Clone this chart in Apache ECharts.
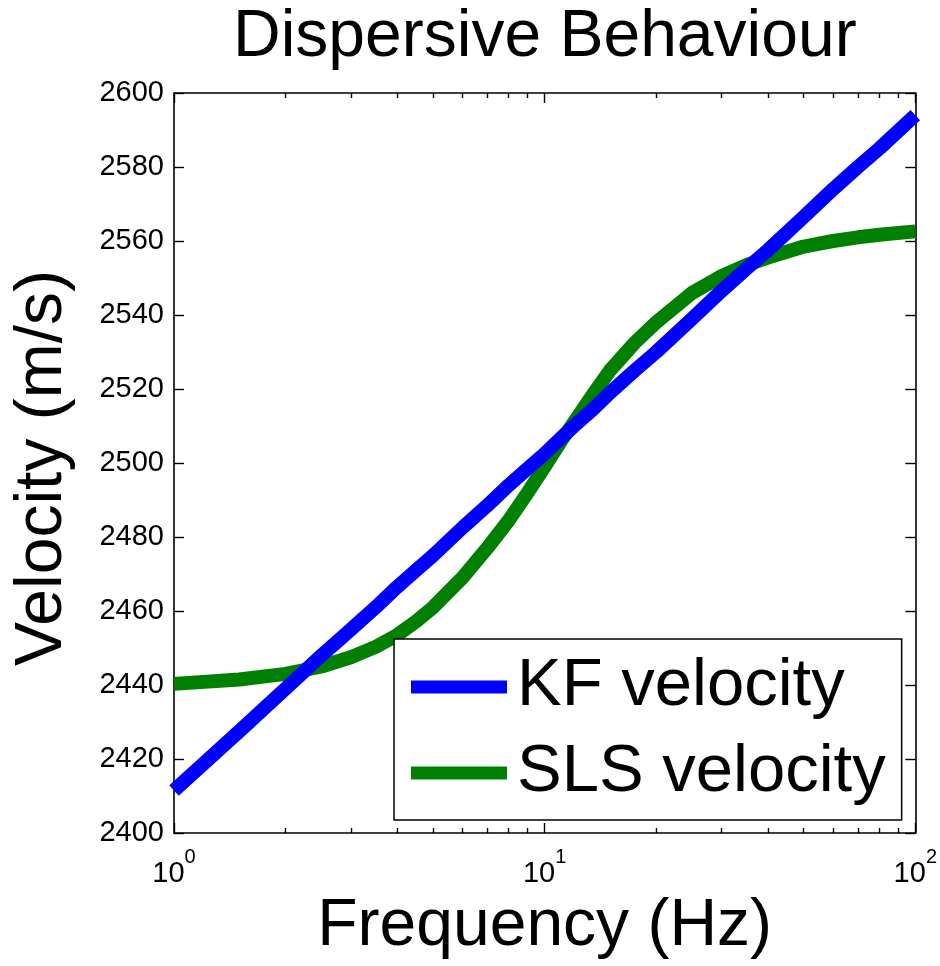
<!DOCTYPE html>
<html>
<head>
<meta charset="utf-8">
<script src="https://cdn.jsdelivr.net/npm/echarts@6/dist/echarts.min.js"></script>
<style>
  html, body { margin: 0; padding: 0; background: #fff; }
  #chart { width: 940px; height: 966px; }
</style>
</head>
<body>
<div id="chart"></div>
<script>
// Frequencies (Hz) at which the two velocity curves are sampled
const frequencies = [1, 1.5, 2, 2.5, 3, 3.5, 4, 4.5, 5, 6, 7, 8, 9, 10, 11, 12, 13.5, 15, 17.5,
                     20, 25, 30, 35, 40, 50, 60, 70, 80, 100];
// Kramers–Kronig (KF) velocity, m/s
const kfVelocity = [2411.5, 2427.5, 2439, 2448, 2455, 2461, 2466.5, 2471, 2475, 2482.5, 2488.5, 2494, 2498.5, 2502.5,
                    2506.5, 2510, 2514.5, 2519, 2525, 2530, 2539, 2546.5, 2552.5, 2557.5, 2566.5, 2574, 2580, 2585, 2594];
// Standard linear solid (SLS) velocity, m/s
const slsVelocity = [2440.3, 2441.5, 2443, 2445, 2447.5, 2450.3, 2453.5, 2457.2, 2461, 2469, 2477, 2484.5, 2492, 2499,
                     2505.5, 2511, 2518.5, 2525, 2532.5, 2538, 2546, 2550.5, 2553.5, 2555.5, 2558.5, 2560, 2561, 2561.7, 2562.6];

const seriesNames = ['KF velocity', 'SLS velocity'];
const yTickStep = 20;
const yMin = 2400, yMax = 2600;
const xMin = 1, xMax = 100;
// Frequencies that carry the small in-between ticks of the log axis
const minorTickFreqs = [2, 3, 4, 5, 6, 7, 8, 9, 20, 30, 40, 50, 60, 70, 80, 90];

const FONT = '"Liberation Sans", Arial, Helvetica, sans-serif';
const AXIS_COLOR = '#000';

const toPairs = (xs, ys) => xs.map((x, i) => [x, ys[i]]);
const minorLogPositions = minorTickFreqs.map(f => Math.log10(f));

const chart = echarts.init(document.getElementById('chart'), null, { renderer: 'canvas' });

const majorLogAxis = (position, withLabels) => ({
  type: 'log',
  logBase: 10,
  position: position,
  min: xMin,
  max: xMax,
  axisLine: { show: true, onZero: false, lineStyle: { color: AXIS_COLOR, width: 1.6 } },
  axisTick: { show: true, inside: true, length: 10, lineStyle: { color: AXIS_COLOR, width: 1.4 } },
  minorTick: { show: false },
  splitLine: { show: false },
  axisLabel: withLabels ? {
    show: true,
    margin: 14,
    fontFamily: FONT,
    fontSize: 29,
    color: '#000',
    // powers of ten written as 10 with a raised exponent
    formatter: v => '{b|10}{s|' + Math.round(Math.log10(v)) + '}',
    rich: {
      b: { fontFamily: FONT, fontSize: 29, color: '#000', lineHeight: 54, verticalAlign: 'middle' },
      s: { fontFamily: FONT, fontSize: 20, color: '#000', lineHeight: 20, verticalAlign: 'top' }
    }
  } : { show: false }
});

const minorTickAxis = position => ({
  type: 'value',
  position: position,
  min: 0,
  max: 2,
  axisLine: { show: false, onZero: false },
  axisTick: {
    show: true, inside: true, length: 5,
    customValues: minorLogPositions,
    lineStyle: { color: AXIS_COLOR, width: 1.4 }
  },
  axisLabel: { show: false },
  splitLine: { show: false }
});

const velocityAxis = (position, withLabels) => ({
  type: 'value',
  position: position,
  min: yMin,
  max: yMax,
  interval: yTickStep,
  axisLine: { show: true, onZero: false, lineStyle: { color: AXIS_COLOR, width: 1.6 } },
  axisTick: { show: true, inside: true, length: 10, lineStyle: { color: AXIS_COLOR, width: 1.4 } },
  splitLine: { show: false },
  axisLabel: withLabels ? {
    show: true, margin: 10, fontFamily: FONT, fontSize: 29, color: '#000',
    formatter: v => String(v)
  } : { show: false }
});

const xBottom = majorLogAxis('bottom', true);
xBottom.name = 'Frequency (Hz)';
xBottom.nameLocation = 'middle';
xBottom.nameGap = 58;
xBottom.nameTextStyle = { fontFamily: FONT, fontSize: 66, color: '#000' };

const yLeft = velocityAxis('left', true);
yLeft.name = 'Velocity (m/s)';
yLeft.nameLocation = 'middle';
yLeft.nameGap = 98;
yLeft.nameTextStyle = { fontFamily: FONT, fontSize: 66, color: '#000', padding: [0, 10, 0, 0] };

const option = {
  backgroundColor: '#fff',
  animation: false,
  title: {
    text: 'Dispersive Behaviour',
    left: 228,
    top: 0,
    textStyle: { fontFamily: FONT, fontSize: 66, fontWeight: 'normal', color: '#000' }
  },
  grid: { left: 174, right: 24, top: 93, bottom: 133, containLabel: false },
  legend: {
    data: seriesNames,
    orient: 'vertical',
    left: 394,
    top: 639,
    padding: [13, 16, 12, 17],
    itemGap: 16,
    itemWidth: 96,
    itemHeight: 13,
    icon: 'rect',
    selectedMode: false,
    backgroundColor: '#fff',
    borderColor: '#000',
    borderWidth: 1.5,
    textStyle: { fontFamily: FONT, fontSize: 67, lineHeight: 70, color: '#000', padding: [0, 0, 0, 5] }
  },
  xAxis: [xBottom, majorLogAxis('top', false), minorTickAxis('bottom'), minorTickAxis('top')],
  yAxis: [yLeft, velocityAxis('right', false)],
  series: [
    {
      name: seriesNames[0],
      type: 'line',
      xAxisIndex: 0,
      yAxisIndex: 0,
      data: toPairs(frequencies, kfVelocity),
      showSymbol: false,
      symbol: 'none',
      color: '#0000ff',
      lineStyle: { width: 14, color: '#0000ff', cap: 'butt' },
      z: 3
    },
    {
      name: seriesNames[1],
      type: 'line',
      xAxisIndex: 0,
      yAxisIndex: 0,
      data: toPairs(frequencies, slsVelocity),
      showSymbol: false,
      symbol: 'none',
      color: '#008000',
      lineStyle: { width: 14, color: '#008000', cap: 'butt', join: 'round' },
      z: 2
    }
  ]
};

chart.setOption(option);
</script>
</body>
</html>
